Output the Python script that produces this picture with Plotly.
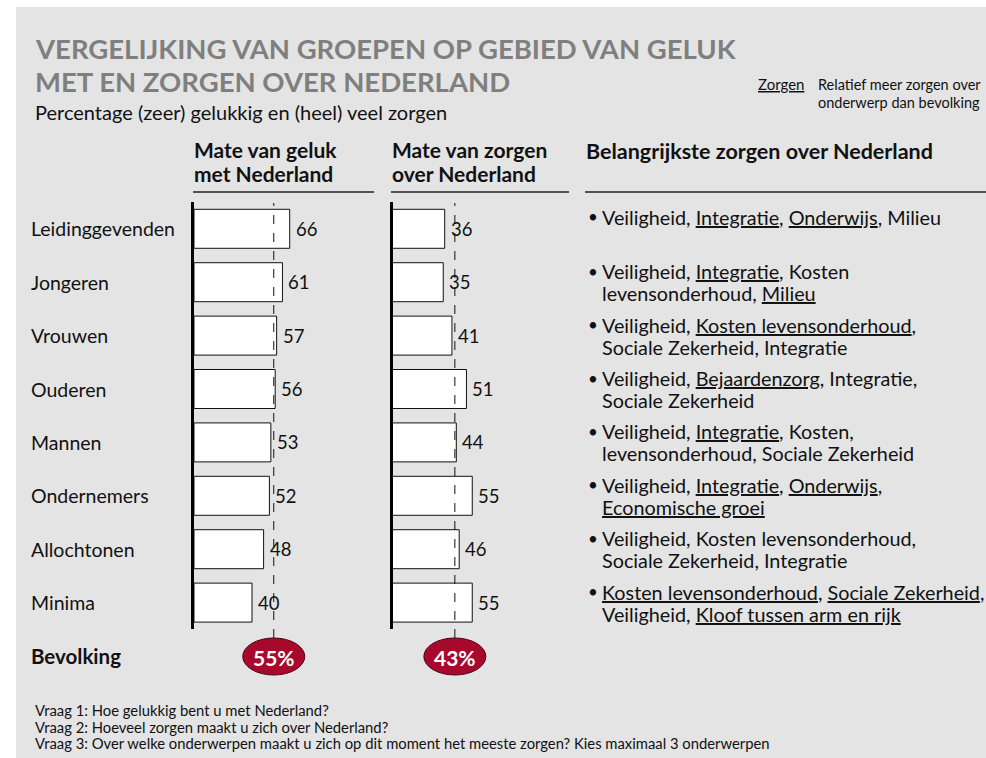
import plotly.graph_objects as go

# ---------------- data ----------------
groups = ["Leidinggevenden", "Jongeren", "Vrouwen", "Ouderen", "Mannen",
          "Ondernemers", "Allochtonen", "Minima"]
geluk = [66, 61, 57, 56, 53, 52, 48, 40]
zorgen = [36, 35, 41, 51, 44, 55, 46, 55]
bevolking_geluk = 55
bevolking_zorgen = 43
belangrijkste = [
    ["Veiligheid, <u>Integratie</u>, <u>Onderwijs</u>, Milieu"],
    ["Veiligheid, <u>Integratie</u>, Kosten", "levensonderhoud, <u>Milieu</u>"],
    ["Veiligheid, <u>Kosten levensonderhoud</u>,", "Sociale Zekerheid, Integratie"],
    ["Veiligheid, <u>Bejaardenzorg</u>, Integratie,", "Sociale Zekerheid"],
    ["Veiligheid, <u>Integratie</u>, Kosten,", "levensonderhoud, Sociale Zekerheid"],
    ["Veiligheid, <u>Integratie</u>, <u>Onderwijs</u>,", "<u>Economische groei</u>"],
    ["Veiligheid, Kosten levensonderhoud,", "Sociale Zekerheid, Integratie"],
    ["<u>Kosten levensonderhoud</u>, <u>Sociale Zekerheid</u>,", "Veiligheid, <u>Kloof tussen arm en rijk</u>"],
]
title_lines = ["VERGELIJKING VAN GROEPEN OP GEBIED VAN GELUK", "MET EN ZORGEN OVER NEDERLAND"]
subtitle = "Percentage (zeer) gelukkig en (heel) veel zorgen"
header_geluk = ["Mate van geluk", "met Nederland"]
header_zorgen = ["Mate van zorgen", "over Nederland"]
header_right = "Belangrijkste zorgen over Nederland"
legend_key = "Zorgen"
legend_text = ["Relatief meer zorgen over", "onderwerp dan bevolking"]
footnotes = [
    "Vraag 1: Hoe gelukkig bent u met Nederland?",
    "Vraag 2: Hoeveel zorgen maakt u zich over Nederland?",
    "Vraag 3: Over welke onderwerpen maakt u zich op dit moment het meeste zorgen? Kies maximaal 3 onderwerpen",
]

W, H = 986, 758
FONT = "Lato"
INK = "#111111"
px = lambda x: x / W
py = lambda y: 1 - y / H

fig = go.Figure()
for vals, xa, ya in [(geluk, "x", "y"), (zorgen, "x2", "y2")]:
    fig.add_trace(go.Bar(
        x=vals, y=groups, orientation="h", xaxis=xa, yaxis=ya,
        marker=dict(color="white", line=dict(color=INK, width=1)),
        showlegend=False, hoverinfo="x+y",
    ))

ydom = [py(629.3), py(202.1)]
axis_common = dict(range=[0, 100], showgrid=False, zeroline=False, showticklabels=False,
                   ticks="", showline=False, fixedrange=True)
yaxis_common = dict(type="category", categoryorder="array", categoryarray=groups,
                    range=[7.5, -0.5], domain=ydom, showgrid=False, zeroline=False,
                    showticklabels=False, ticks="", showline=True, linecolor="#000000",
                    linewidth=3, fixedrange=True)

fig.update_layout(
    width=W, height=H, margin=dict(l=0, r=0, t=0, b=0),
    paper_bgcolor="white", plot_bgcolor="rgba(0,0,0,0)",
    bargap=0.27, font=dict(family=FONT, color=INK),
    xaxis=dict(domain=[px(194), px(339)], anchor="y", **axis_common),
    yaxis=dict(anchor="x", **yaxis_common),
    xaxis2=dict(domain=[px(392.5), px(537.5)], anchor="y2", **axis_common),
    yaxis2=dict(anchor="x2", **yaxis_common),
)

shapes = []
annotations = []


def note(x, y, text, size, bold=False, color=INK, anchor="left", **kw):
    t = f"<b>{text}</b>" if bold else text
    d = dict(x=px(x), xref="paper", y=py(y), yref="paper", text=t, showarrow=False,
             xanchor=anchor, yanchor="middle", align="left",
             font=dict(size=size, color=color, family=FONT))
    d.update(kw)
    annotations.append(d)


def block(x, y_first, lines, size, spacing, bold=False, color=INK):
    """Multi-line text in one annotation; base font sets the line spacing (1.3em)."""
    base = spacing / 1.3
    inner = "<br>".join(f"<span style='font-size:{size}px'>{ln}</span>" for ln in lines)
    if bold:
        inner = f"<b>{inner}</b>"
    yc = y_first + spacing * (len(lines) - 1) / 2
    note(x, yc, inner, base, color=color)


# gray panel
shapes.append(dict(type="rect", xref="paper", yref="paper", x0=px(16), x1=1, y0=0, y1=py(7),
                   fillcolor="#E4E4E4", line=dict(width=0), layer="below"))
# header underlines
for x0, x1 in [(193, 374), (391, 569), (585, 986)]:
    shapes.append(dict(type="line", xref="paper", yref="paper", x0=px(x0), x1=px(x1),
                       y0=py(192), y1=py(192), line=dict(color="#222222", width=1.5)))

for val, xr in [(bevolking_geluk, "x"), (bevolking_zorgen, "x2")]:
    shapes.append(dict(type="line", xref=xr, yref="paper", x0=val, x1=val,
                       y0=py(638), y1=py(203), line=dict(color=INK, width=1, dash="dash")))
    shapes.append(dict(type="circle", xref=xr, yref="paper", xsizemode="pixel", ysizemode="pixel",
                       xanchor=val, yanchor=py(656.5), x0=-31, x1=31, y0=-18.5, y1=18.5,
                       fillcolor="#A8082B", line=dict(color="#4a0010", width=1)))
    annotations.append(dict(x=val, xref=xr, y=py(657), yref="paper", text=f"<b>{val}%</b>",
                            showarrow=False, font=dict(size=21, color="white", family=FONT),
                            xanchor="center", yanchor="middle"))

# value labels
for vals, xr, yr in [(geluk, "x", "y"), (zorgen, "x2", "y2")]:
    for g, v in zip(groups, vals):
        annotations.append(dict(x=v, xref=xr, y=g, yref=yr, text=str(v), showarrow=False,
                                xanchor="left", yanchor="middle", xshift=4,
                                font=dict(size=18.5, color=INK)))

# category labels + right column
for g, lines in zip(groups, belangrijkste):
    annotations.append(dict(x=px(29), xref="paper", y=g, yref="y", text=g, showarrow=False,
                            xanchor="left", yanchor="middle", font=dict(size=19.5, color=INK)))
    first_shift = 12 if len(lines) == 1 else 11
    annotations.append(dict(x=px(586), xref="paper", y=g, yref="y", text="•", showarrow=False,
                            xanchor="left", yanchor="middle", yshift=first_shift,
                            font=dict(size=17, color=INK)))
    inner = "<br>".join(f"<span style='font-size:19.8px'>{ln}</span>" for ln in lines)
    annotations.append(dict(x=px(600), xref="paper", y=g, yref="y", text=inner, showarrow=False,
                            xanchor="left", yanchor="middle", align="left",
                            yshift=first_shift if len(lines) == 1 else 0,
                            font=dict(size=22 / 1.3, color=INK)))

note(29, 656, "Bevolking", 20.5, bold=True)

# headers
block(192, 150, header_geluk, 21, 23.5, bold=True)
block(390, 150, header_zorgen, 21, 23.5, bold=True)
note(584, 151, header_right, 21.5, bold=True)

# title
for i, line in enumerate(title_lines):
    note(33, 48 + 34 * i, line, 27.5, bold=True, color="#7F7F7F")
note(33, 112, subtitle, 20)

# legend note
note(756, 84, f"<u>{legend_key}</u>", 15)
block(816, 84, legend_text, 14.5, 18)

# footnotes
block(33, 709.5, footnotes, 14.8, 16.7)

fig.update_layout(shapes=shapes, annotations=annotations)
fig.write_html("out.html", config={"displayModeBar": False},
               post_script="document.body.style.margin='0';document.body.style.overflow='hidden';")
